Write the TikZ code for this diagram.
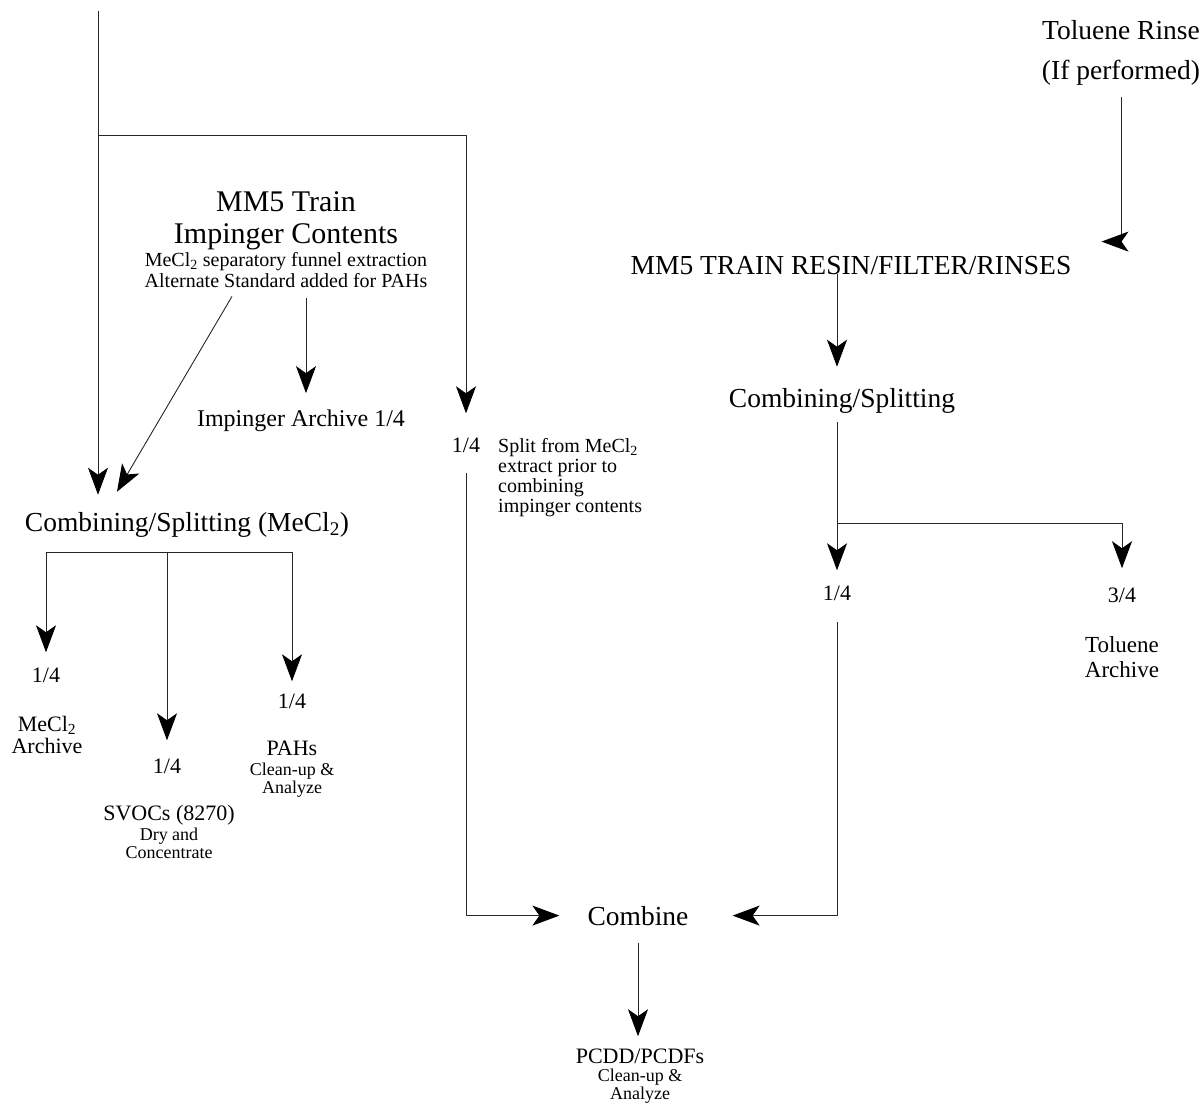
\documentclass[tikz,border=0pt]{standalone}
\usepackage{fontspec}
\setmainfont{Liberation Serif}
\usetikzlibrary{arrows.meta}
\newcommand\fsTitle{\fontsize{30}{32}\selectfont}
\newcommand\fsMid{\fontsize{27.5}{30}\selectfont}
\newcommand\fsFrac{\fontsize{22}{22}\selectfont}
\newcommand\fsNote{\fontsize{20}{21}\selectfont}
\newcommand\fsSmall{\fontsize{18}{18}\selectfont}
\begin{document}
\begin{tikzpicture}[x=1pt,y=-1pt,>={Stealth[length=27pt,width=20pt,inset=7pt,color=black]},line join=bevel,
  flow/.style={->,line width=0.9pt,draw=black!85},
  link/.style={line width=0.9pt,draw=black!85},
  lbl/.style={inner sep=0pt,anchor=base,font=\fsMid},
  frac/.style={inner sep=0pt,anchor=base,font=\fsFrac},
  note/.style={inner sep=0pt,anchor=base,align=center,font=\fsNote},
  sink/.style={inner sep=0pt,anchor=base,align=center,font=\fsSmall}]
  \useasboundingbox (0,0) rectangle (1202,1105);
%%
  % Node: impinger
  \node[note] (impinger) at (286,287) {{\fsTitle MM5 Train}\\[11pt]{\fsTitle Impinger Contents}\\[2pt]MeCl\textsubscript{2} separatory funnel extraction\\Alternate Standard added for PAHs};
  % Node: imparch
  \node[frac,font=\fontsize{24}{24}\selectfont] (imparch) at (301,426) {Impinger Archive 1/4};
  % Node: splitq
  \node[frac] (splitq) at (466,452) {1/4};
  % Node: splitnote
  \node[note,align=left,anchor=base west,font=\fontsize{20}{20}\selectfont] (splitnote) at (498,512) {Split from MeCl\textsubscript{2}\\extract prior to\\combining\\impinger contents};
  % Node: cmb
  \node[lbl] (cmb) at (187,531) {Combining/Splitting (MeCl\textsubscript{2})};
  % Node: qa
  \node[frac] (qa) at (46,682) {1/4};
  % Node: mecarch
  \node[frac,align=center] (mecarch) at (47,753) {MeCl\textsubscript{2}\\Archive};
  % Node: qb
  \node[frac] (qb) at (167,773) {1/4};
  % Node: svocs
  \node[sink] (svocs) at (169,858) {{\fsFrac SVOCs (8270)}\\[2pt]Dry and\\Concentrate};
  % Node: qc
  \node[frac] (qc) at (292,708) {1/4};
  % Node: pahs
  \node[sink] (pahs) at (292,793) {{\fsFrac PAHs}\\[2pt]Clean-up \&\\Analyze};
  % Node: trinse
  \node[lbl,align=center,font=\fontsize{27.5}{40}\selectfont] (trinse) at (1121,80) {Toluene Rinse\\(If performed)};
  % Node: resin
  \node[lbl] (resin) at (851,274) {MM5 TRAIN RESIN/FILTER/RINSES};
  % Node: rcmb
  \node[lbl] (rcmb) at (842,407) {Combining/Splitting};
  % Node: rq
  \node[frac] (rq) at (837,600) {1/4};
  % Node: rthree
  \node[frac] (rthree) at (1122,602) {3/4};
  % Node: tolarch
  \node[frac,align=center,font=\fontsize{23}{25}\selectfont] (tolarch) at (1122,677) {Toluene\\Archive};
  % Node: combine
  \node[lbl] (combine) at (638,925) {Combine};
  % Node: pcdd
  \node[sink] (pcdd) at (640,1099) {{\fsFrac PCDD/PCDFs}\\[0pt]Clean-up \&\\Analyze};
  \coordinate (feed) at (98,11);
  \coordinate (branch) at (98,135);
  \coordinate (rcol) at (837,0);
  \coordinate (rsplit) at (837,523);
%%
  % Edge: feed -> cmb
  \draw[flow] (feed) -- ([yshift=17pt]feed |- cmb.north);
  % Edge: feed -> splitq
  \draw[flow] (branch) -| ([yshift=24pt]splitq.north);
  % Edge: impinger -> cmb
  \draw[flow] ([xshift=-54pt,yshift=-9pt]impinger.south) -- ([xshift=-70pt,yshift=20pt]cmb.north);
  % Edge: impinger -> imparch
  \draw[flow] ([xshift=5pt]imparch.north |- impinger.south) ++(0,11) -- ([xshift=5pt,yshift=16pt]imparch.north);
  % Edge: splitq -> combine
  \draw[flow] ([yshift=-21pt]splitq.south) |- ([xshift=-28pt]combine.west);
  % Edge: cmb -> qa, qb, qc
  \coordinate (cmbsplit) at ([yshift=-15pt]cmb.south);
  \draw[link] (cmbsplit -| qa) -- (cmbsplit -| qc);
  \draw[flow] (cmbsplit -| qa) -- ([yshift=15pt]qa.north);
  \draw[flow] (cmbsplit -| qb) -- ([yshift=18pt]qb.north);
  \draw[flow] (cmbsplit -| qc) -- ([yshift=12pt]qc.north);
  % Edge: trinse -> resin
  \draw[flow] ([yshift=-11pt]trinse.south) |- ([xshift=30pt,yshift=14pt]resin.north east);
  % Edge: resin -> rcmb
  \draw[flow] (rcol |- resin.south) -- ([yshift=21pt]rcol |- rcmb.north);
  % Edge: rcmb -> rq
  \draw[flow] ([yshift=-9pt]rcol |- rcmb.south) -- ([yshift=15pt]rcol |- rq.north);
  % Edge: rcmb -> rthree
  \draw[flow] (rsplit) -| ([yshift=19pt]rthree.north);
  % Edge: rq -> combine
  \draw[flow] ([yshift=-22pt]rq.south) |- ([xshift=44pt]combine.east);
  % Edge: combine -> pcdd
  \draw[flow] ([yshift=-18pt]combine.south) -- ([yshift=12pt]combine.south |- pcdd.north);
%
\end{tikzpicture}
\end{document}
